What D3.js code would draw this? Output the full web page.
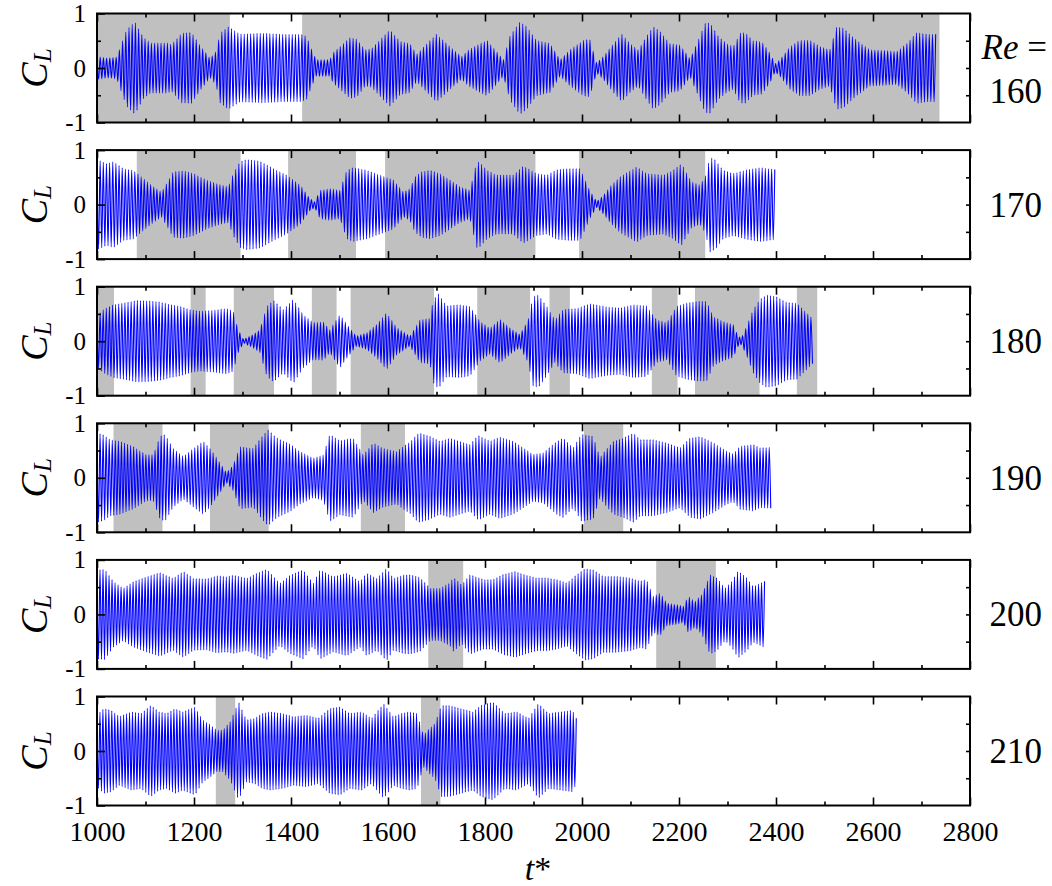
<!DOCTYPE html>
<html>
<head>
<meta charset="utf-8">
<script src="https://cdn.jsdelivr.net/npm/d3@7"></script>
<style>
  body { margin: 0; background: #fff; }
  svg { display: block; }
  text { font-family: "Liberation Serif", "Times New Roman", serif; fill: #000; }
</style>
</head>
<body>
<svg id="chart" width="1052" height="886"></svg>
<script>
// Lift coefficient records, one panel per Reynolds number.
const reynolds = ["160", "170", "180", "190", "200", "210"];
// Shedding period (in t*) of each record
const periods = [6.6, 6.5, 6.4, 6.3, 6.2, 6.1];
// Last sample time of each record
const recordEnd = [2732, 2400, 2478, 2390, 2379, 1990];

// Shaded intervals [start, end] in t*
const shaded160 = [[1000, 1274], [1423, 2737]];
const shaded170 = [[1082, 1296], [1394, 1534], [1594, 1904], [1994, 2254]];
const shaded180 = [[1000, 1035], [1193, 1224], [1282, 1365], [1443, 1494], [1523, 1695],
                   [1784, 1893], [1933, 1975], [2144, 2197], [2233, 2366], [2443, 2485]];
const shaded190 = [[1034, 1135], [1233, 1354], [1544, 1635], [2004, 2085]];
const shaded200 = [[1683, 1755], [2153, 2276]];
const shaded210 = [[1245, 1285], [1668, 1708]];

// Amplitude envelope of C_L: [t*, |C_L| peak]
const env160 = [[1000,0.21],[1020,0.18],[1041,0.2],[1046,0.33],[1061,0.70],[1078,0.85],[1095,0.57],[1110,0.46],
  [1144,0.46],[1154,0.43],[1175,0.64],[1195,0.65],[1212,0.42],[1233,0.18],[1245,0.3],[1254,0.64],[1271,0.76],
  [1281,0.70],[1295,0.62],[1340,0.64],[1380,0.62],[1420,0.62],[1432,0.58],[1443,0.33],[1452,0.15],[1480,0.15],
  [1487,0.28],[1501,0.39],[1522,0.56],[1536,0.53],[1553,0.33],[1566,0.35],[1590,0.58],[1604,0.70],[1625,0.49],
  [1645,0.45],[1659,0.25],[1666,0.31],[1687,0.51],[1700,0.62],[1721,0.45],[1738,0.31],[1752,0.21],[1766,0.33],
  [1790,0.45],[1804,0.51],[1821,0.33],[1838,0.15],[1852,0.60],[1872,0.85],[1886,0.76],[1906,0.51],[1934,0.45],
  [1955,0.15],[1975,0.33],[2003,0.51],[2016,0.53],[2030,0.09],[2044,0.21],[2065,0.45],[2082,0.62],[2099,0.45],
  [2116,0.33],[2133,0.58],[2147,0.76],[2161,0.67],[2181,0.45],[2202,0.42],[2223,0.17],[2237,0.45],[2254,0.82],
  [2264,0.83],[2281,0.58],[2298,0.45],[2312,0.39],[2326,0.64],[2336,0.65],[2353,0.50],[2371,0.48],[2388,0.27],
  [2398,0.07],[2408,0.15],[2429,0.39],[2449,0.51],[2470,0.51],[2491,0.39],[2511,0.33],[2525,0.76],[2539,0.73],
  [2566,0.51],[2594,0.33],[2621,0.32],[2649,0.30],[2670,0.45],[2690,0.65],[2711,0.62],[2732,0.62]];
const env170 = [[1000,0.83],[1020,0.75],[1034,0.79],[1054,0.66],[1075,0.63],[1095,0.48],[1116,0.33],[1133,0.23],
  [1144,0.39],[1157,0.60],[1178,0.62],[1199,0.57],[1226,0.45],[1254,0.36],[1271,0.33],[1281,0.57],[1295,0.79],
  [1309,0.83],[1336,0.80],[1364,0.66],[1391,0.54],[1419,0.36],[1439,0.11],[1449,0.05],[1460,0.26],[1480,0.29],
  [1501,0.26],[1515,0.63],[1528,0.68],[1556,0.63],[1584,0.54],[1611,0.45],[1632,0.23],[1645,0.29],[1656,0.51],
  [1669,0.60],[1687,0.63],[1707,0.57],[1728,0.45],[1748,0.33],[1769,0.26],[1783,0.79],[1790,0.77],[1804,0.63],
  [1824,0.54],[1858,0.54],[1879,0.71],[1906,0.57],[1927,0.54],[1948,0.64],[1975,0.66],[1996,0.66],[2016,0.26],
  [2030,0.05],[2044,0.17],[2058,0.33],[2078,0.51],[2113,0.69],[2133,0.57],[2168,0.54],[2188,0.63],[2205,0.75],
  [2226,0.42],[2243,0.36],[2254,0.51],[2264,0.87],[2275,0.82],[2291,0.63],[2312,0.57],[2340,0.64],[2367,0.68],
  [2400,0.64]];
const env180 = [[1000,0.46],[1013,0.58],[1034,0.67],[1061,0.71],[1082,0.75],[1109,0.74],[1130,0.72],[1151,0.67],
  [1171,0.64],[1192,0.58],[1212,0.55],[1240,0.57],[1267,0.60],[1281,0.55],[1291,0.21],[1302,0.03],[1322,0.12],
  [1336,0.21],[1350,0.64],[1364,0.75],[1384,0.58],[1405,0.77],[1425,0.49],[1446,0.34],[1467,0.35],[1480,0.21],
  [1501,0.49],[1515,0.31],[1535,0.09],[1556,0.15],[1577,0.31],[1597,0.52],[1618,0.25],[1635,0.15],[1645,0.09],
  [1666,0.39],[1687,0.42],[1693,0.76],[1704,0.87],[1721,0.65],[1748,0.67],[1769,0.64],[1790,0.36],[1810,0.24],
  [1831,0.40],[1852,0.24],[1872,0.12],[1889,0.39],[1899,0.82],[1910,0.85],[1927,0.64],[1944,0.39],[1961,0.58],
  [1989,0.60],[2016,0.69],[2051,0.63],[2078,0.61],[2106,0.67],[2133,0.65],[2154,0.39],[2175,0.34],[2195,0.64],
  [2216,0.70],[2237,0.73],[2257,0.73],[2271,0.45],[2291,0.36],[2312,0.30],[2322,0.09],[2329,0.06],[2340,0.28],
  [2353,0.58],[2367,0.77],[2381,0.85],[2401,0.82],[2422,0.71],[2443,0.70],[2463,0.52],[2478,0.39]];
const env190 = [[1000,0.82],[1013,0.79],[1027,0.70],[1047,0.67],[1075,0.57],[1102,0.42],[1116,0.42],[1130,0.76],
  [1140,0.80],[1157,0.54],[1178,0.39],[1199,0.54],[1219,0.67],[1233,0.54],[1254,0.27],[1267,0.09],[1281,0.24],
  [1295,0.57],[1322,0.54],[1343,0.79],[1353,0.88],[1371,0.73],[1398,0.62],[1419,0.48],[1446,0.36],[1467,0.42],
  [1480,0.80],[1501,0.68],[1528,0.73],[1549,0.42],[1570,0.64],[1590,0.54],[1618,0.48],[1632,0.58],[1645,0.65],
  [1659,0.79],[1666,0.82],[1687,0.76],[1707,0.67],[1728,0.73],[1748,0.67],[1769,0.61],[1786,0.78],[1810,0.67],
  [1831,0.75],[1858,0.67],[1879,0.55],[1899,0.43],[1920,0.46],[1948,0.67],[1961,0.73],[1982,0.55],[1999,0.80],
  [2023,0.76],[2037,0.37],[2047,0.49],[2065,0.67],[2085,0.73],[2106,0.82],[2120,0.70],[2147,0.70],[2175,0.64],
  [2202,0.55],[2223,0.73],[2243,0.76],[2271,0.64],[2298,0.49],[2312,0.44],[2326,0.58],[2353,0.61],[2367,0.55],
  [2390,0.56]];
const env200 = [[1000,0.82],[1016,0.83],[1034,0.60],[1054,0.48],[1075,0.60],[1102,0.69],[1130,0.77],[1157,0.66],
  [1178,0.79],[1199,0.66],[1226,0.65],[1247,0.71],[1267,0.69],[1281,0.72],[1309,0.66],[1330,0.76],[1350,0.83],
  [1377,0.57],[1398,0.72],[1425,0.82],[1446,0.57],[1460,0.82],[1487,0.69],[1515,0.76],[1542,0.60],[1556,0.76],
  [1577,0.66],[1597,0.85],[1611,0.66],[1632,0.72],[1645,0.73],[1666,0.68],[1687,0.48],[1707,0.48],[1728,0.58],
  [1735,0.68],[1752,0.54],[1769,0.73],[1797,0.64],[1817,0.64],[1838,0.74],[1862,0.79],[1886,0.72],[1906,0.67],
  [1927,0.67],[1948,0.64],[1969,0.58],[1989,0.73],[2006,0.84],[2023,0.82],[2044,0.70],[2071,0.70],[2099,0.67],
  [2120,0.61],[2133,0.64],[2147,0.33],[2161,0.39],[2175,0.21],[2195,0.18],[2209,0.15],[2219,0.33],[2233,0.24],
  [2247,0.36],[2264,0.73],[2278,0.67],[2295,0.48],[2309,0.61],[2322,0.80],[2340,0.67],[2353,0.51],[2379,0.62]];
const env210 = [[1000,0.66],[1014,0.78],[1029,0.75],[1046,0.63],[1071,0.72],[1091,0.69],[1111,0.84],[1128,0.72],
  [1144,0.69],[1161,0.78],[1177,0.72],[1202,0.81],[1218,0.57],[1234,0.48],[1247,0.38],[1259,0.38],[1275,0.54],
  [1292,0.90],[1308,0.57],[1325,0.60],[1341,0.69],[1357,0.72],[1382,0.69],[1406,0.63],[1431,0.66],[1456,0.60],
  [1480,0.78],[1501,0.81],[1521,0.69],[1546,0.72],[1566,0.60],[1591,0.87],[1611,0.63],[1628,0.69],[1644,0.72],
  [1660,0.69],[1673,0.29],[1685,0.41],[1697,0.51],[1710,0.84],[1726,0.84],[1750,0.78],[1775,0.72],[1792,0.84],
  [1816,0.90],[1841,0.69],[1865,0.72],[1890,0.60],[1910,0.87],[1931,0.69],[1955,0.72],[1980,0.75],[1990,0.57]];

const envelopes = [env160, env170, env180, env190, env200, env210];
const shaded = [shaded160, shaded170, shaded180, shaded190, shaded200, shaded210];

const xTicksMajor = [1000, 1200, 1400, 1600, 1800, 2000, 2200, 2400, 2600, 2800];
const xTicksMinor = [1100, 1300, 1500, 1700, 1900, 2100, 2300, 2500, 2700];
const yTicksMajor = [-1, 0, 1];
const yTicksMinor = [-0.5, 0.5];

// Layout
const W = 1052, H = 886;
const left = 97, right = 970;
const panelTop0 = 13.5, panelStep = 136.6, panelH = 109;
const serif = '"Liberation Serif", "Times New Roman", serif';

const svg = d3.select("#chart");
svg.append("rect").attr("width", W).attr("height", H).attr("fill", "#fff");

const x = d3.scaleLinear().domain([1000, 2800]).range([left, right]);

reynolds.forEach((re, i) => {
  const top = panelTop0 + i * panelStep;
  const y = d3.scaleLinear().domain([-1, 1]).range([top + panelH, top]);
  const g = svg.append("g");

  // shaded intervals
  g.selectAll("rect.band").data(shaded[i]).join("rect")
    .attr("class", "band")
    .attr("x", d => x(d[0]))
    .attr("width", d => x(d[1]) - x(d[0]))
    .attr("y", top).attr("height", panelH)
    .attr("fill", "#c0c0c0");

  // lift signal: alternate crests and troughs every half period, scaled by the envelope
  const env = envelopes[i];
  const amp = d3.scaleLinear().domain(env.map(d => d[0])).range(env.map(d => d[1])).clamp(true);
  const half = periods[i] / 2;
  const pts = [];
  for (let k = 0; 1000 + k * half <= recordEnd[i]; k++) {
    const t = 1000 + k * half;
    pts.push([t, (k % 2 === 0 ? 1 : -1) * amp(t)]);
  }
  const line = d3.line().x(d => x(d[0])).y(d => y(d[1])).curve(d3.curveMonotoneX);
  g.append("path").datum(pts)
    .attr("d", line)
    .attr("fill", "none")
    .attr("stroke", "#0000ff")
    .attr("stroke-width", 1.1);

  // axes: ticks pointing inward on all four sides
  const last = i === reynolds.length - 1;
  const bottomMajor = d3.axisBottom(x).tickValues(xTicksMajor).tickSize(-8).tickPadding(16)
    .tickFormat(last ? d => String(d) : () => "");
  const bottomMinor = d3.axisBottom(x).tickValues(xTicksMinor).tickSize(-4).tickFormat(() => "");
  const topMajor = d3.axisTop(x).tickValues(xTicksMajor).tickSize(-8).tickFormat(() => "");
  const topMinor = d3.axisTop(x).tickValues(xTicksMinor).tickSize(-4).tickFormat(() => "");
  const leftMajor = d3.axisLeft(y).tickValues(yTicksMajor).tickSize(-8).tickPadding(11)
    .tickFormat(d => String(d));
  const leftMinor = d3.axisLeft(y).tickValues(yTicksMinor).tickSize(-4).tickFormat(() => "");
  const rightAll = d3.axisRight(y).tickValues([-0.5, 0, 0.5]).tickSize(-4).tickFormat(() => "");

  const axes = [
    [bottomMajor, `translate(0,${top + panelH})`, 28],
    [bottomMinor, `translate(0,${top + panelH})`, 28],
    [topMajor, `translate(0,${top})`, 28],
    [topMinor, `translate(0,${top})`, 28],
    [leftMajor, `translate(${left},0)`, 25],
    [leftMinor, `translate(${left},0)`, 25],
    [rightAll, `translate(${right},0)`, 25]
  ];
  axes.forEach(([ax, tr, fs]) => {
    const a = g.append("g").attr("transform", tr).call(ax);
    a.select(".domain").remove();
    a.attr("font-family", serif);
    a.selectAll(".tick line").attr("stroke", "#000").attr("stroke-width", 1.6);
    a.selectAll(".tick text").attr("font-size", fs)
      .style("font-family", serif).attr("fill", "#000");
  });

  // frame
  g.append("rect")
    .attr("x", left).attr("y", top)
    .attr("width", right - left).attr("height", panelH)
    .attr("fill", "none").attr("stroke", "#000").attr("stroke-width", 2);

  // y label C_L
  const cy = top + panelH / 2;
  const lab = g.append("text")
    .attr("transform", `translate(47,${cy}) rotate(-90)`)
    .attr("text-anchor", "middle")
    .attr("font-size", 38);
  lab.append("tspan").attr("font-style", "italic").text("C");
  lab.append("tspan").attr("font-style", "italic").attr("font-size", 25).attr("dy", 4).text("L");

  // Reynolds number label
  if (i === 0) {
    const reT = g.append("text").attr("x", 1047).attr("y", top + 45)
      .attr("text-anchor", "end").attr("font-size", 35);
    reT.append("tspan").attr("font-style", "italic").text("Re");
    reT.append("tspan").text(" =");
    g.append("text").attr("x", 1042).attr("y", top + 89)
      .attr("text-anchor", "end").attr("font-size", 35).text(re);
  } else {
    g.append("text").attr("x", 1042).attr("y", cy + 12)
      .attr("text-anchor", "end").attr("font-size", 35).text(re);
  }
});

// x axis title
const tl = svg.append("text").attr("x", 538).attr("y", 880)
  .attr("text-anchor", "middle").attr("font-size", 34);
tl.append("tspan").attr("font-style", "italic").text("t");
tl.append("tspan").text("*");
</script>
</body>
</html>
